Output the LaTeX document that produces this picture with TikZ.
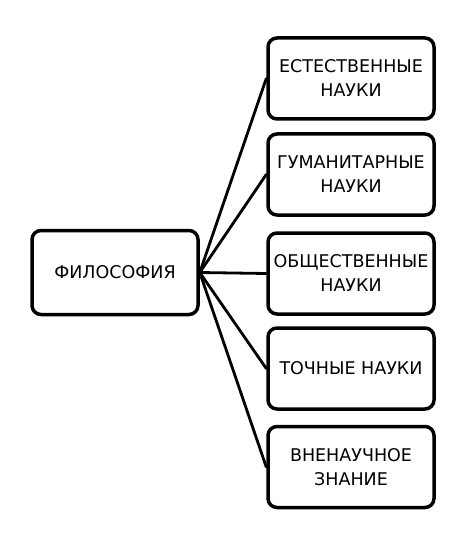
\documentclass[tikz,border=0pt]{standalone}
\usepackage{fontspec}
\setmainfont{DejaVu Sans}
\begin{document}
\begin{tikzpicture}[x=1pt,y=-1pt,
  box/.style={draw=black, line width=3.5pt, rounded corners=9pt, fill=white,
    minimum width=166pt, minimum height=81pt, align=center, inner sep=0pt,
    font=\fontsize{17.5}{24}\selectfont},
  link/.style={line width=2.8pt, line cap=round}]
\useasboundingbox[fill=white] (0,0) rectangle (469,545);
\node[box, minimum height=84pt] (phil) at (115,272.5) {ФИЛОСОФИЯ};
\node[box] (n1) at (351,78.5) {ЕСТЕСТВЕННЫЕ\\НАУКИ};
\node[box] (n2) at (351,174.5) {ГУМАНИТАРНЫЕ\\НАУКИ};
\node[box] (n3) at (351,273.5) {ОБЩЕСТВЕННЫЕ\\НАУКИ};
\node[box] (n4) at (351,368.5) {ТОЧНЫЕ НАУКИ};
\node[box] (n5) at (351,467) {ВНЕНАУЧНОЕ\\ЗНАНИЕ};
\foreach \n in {n1,n2,n3,n4,n5}
  \draw[link] (phil.east) -- (\n.west);
\end{tikzpicture}
\end{document}
